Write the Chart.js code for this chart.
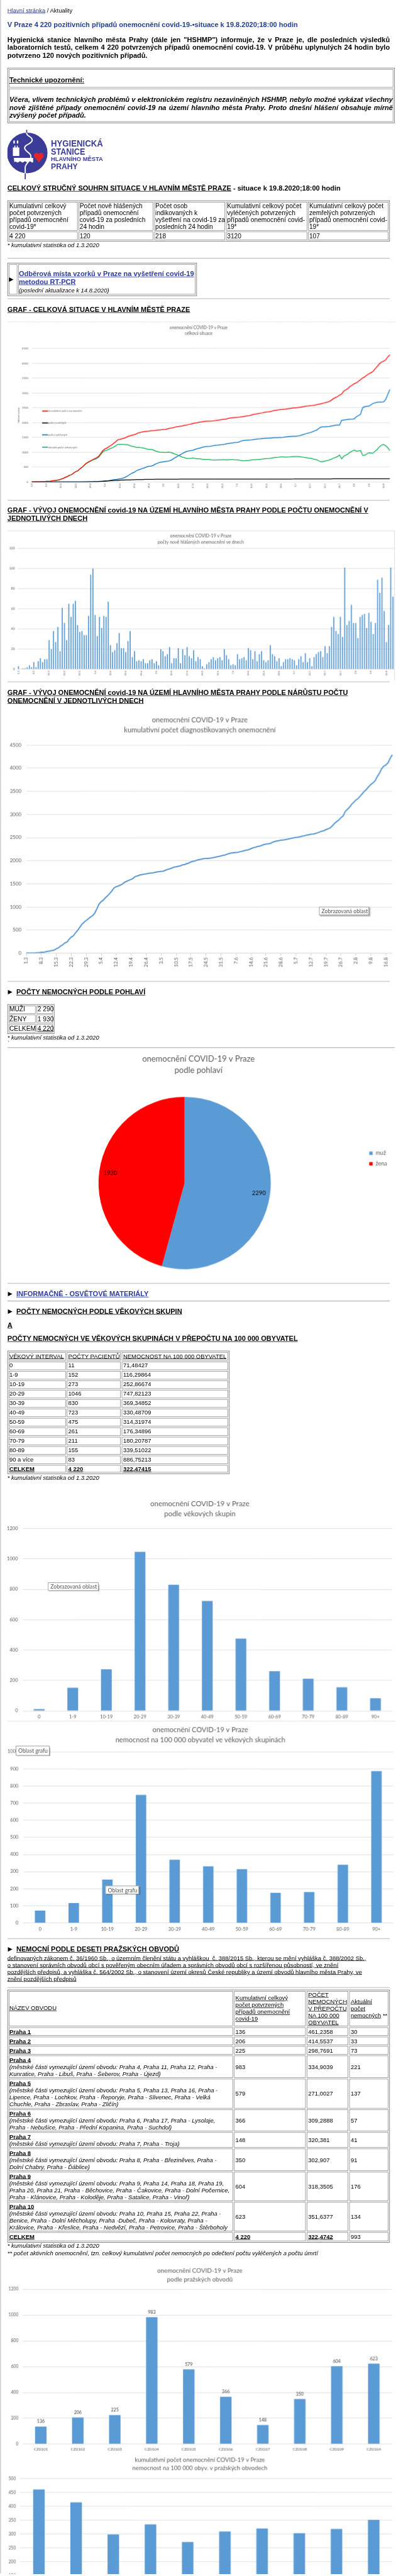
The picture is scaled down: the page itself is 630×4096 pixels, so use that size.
<!DOCTYPE html>
<html lang="cs">
<head>
<meta charset="utf-8">
<title>V Praze 4 220 pozitivních případů onemocnění covid-19</title>
<script src="https://cdn.jsdelivr.net/npm/chart.js@4.4.1/dist/chart.umd.min.js"></script>
<style>
  html, body { margin: 0; padding: 0; background: #fff; width: 630px; height: 4096px; overflow: hidden; }
  #page { position: absolute; left: 0; top: 0; width: 800px; height: 5200px; overflow: hidden;
          transform: scale(0.787); transform-origin: 0 0;
          font-family: "Liberation Sans", Arial, sans-serif; font-size: 14px; color: #000; }
  .a { position: absolute; white-space: nowrap; }
  .u { text-decoration: underline; }
  .lnk { color: #2d3a9e; text-decoration: underline; }
  .hr { position: absolute; left: 15px; width: 773px; height: 0; border-top: 1px solid #a3a3a3; border-bottom: 1px solid #e4e4e4; }
  .tip { position: absolute; background: #fff; border: 1px solid #8c8c8c; box-shadow: 2px 2px 2px rgba(0,0,0,.35);
         font-family: Lato, sans-serif; font-size: 11px; color: #575757; padding: 0 4px; white-space: nowrap; box-sizing: border-box; }
  .cv { position: absolute; }
</style>
</head>
<body>
<div id="page">
  <svg width="200" height="100" viewBox="0 0 200 100" style="position:absolute;left:15px;top:262px">
    <circle cx="40" cy="47" r="41" fill="#3b3c97"/>
    <path d="M39 0 V7" stroke="#3b3c97" stroke-width="2.2"/>
    <path d="M39 6 C37 13 52 14 50 22 C48 30 33 30 35 38 C37 46 50 47 47 57 C44 67 34 70 36 79 L36 89" stroke="#fff" stroke-width="2.4" fill="none"/>
    <path d="M36 88 V100" stroke="#3b3c97" stroke-width="2.2"/>
    <path d="M11 53 V36 h3 v-4 h2 v4 h3 v-4 h2 v4 h3 V53 Z" fill="#fff"/>
    <rect x="12" y="22" width="3" height="6" fill="#fff"/>
    <rect x="19" y="22" width="3" height="6" fill="#fff"/>
    <path d="M13 57 H52 V66 h-3 a4 4 0 0 0 -7 0 h-3 a4 4 0 0 0 -7 0 h-3 a4 4 0 0 0 -7 0 h-3 a3 3 0 0 0 -5 0 Z" fill="#fff"/>
    <path d="M63.5 66 L55 56 C51 50 57 43 63.5 49 C70 43 76 50 72 56 Z" fill="#e3242b"/>
    <g fill="#3b3c97" font-family="Liberation Sans, Arial, sans-serif" font-weight="bold">
      <text x="88" y="34" font-size="18" textLength="105" lengthAdjust="spacingAndGlyphs">HYGIENICKÁ</text>
      <text x="88" y="50" font-size="18" textLength="69" lengthAdjust="spacingAndGlyphs">STANICE</text>
      <text x="88" y="63.5" font-size="11.5" textLength="105" lengthAdjust="spacingAndGlyphs">HLAVNÍHO MĚSTA</text>
      <text x="88" y="80" font-size="17" textLength="54" lengthAdjust="spacingAndGlyphs">PRAHY</text>
    </g>
  </svg>
</div>
<script>
// ---------------------------------------------------------------- data
// days 1.3. – 19.8.2020
const monthDays = [[3, 31], [4, 30], [5, 31], [6, 30], [7, 31], [8, 19]];
const dayLabels = [];
monthDays.forEach(([m, n]) => { for (let d = 1; d <= n; d++) dayLabels.push(d + '.' + m); });

// newly reported cases per day (one row = one week from 1.3.)
const dailyCases = [
  3, 0, 1, 1, 2, 4, 2,
  7, 2, 8, 11, 7, 10, 10,
  29, 20, 38, 27, 42, 18, 61,
  46, 29, 65, 52, 65, 68, 44,
  37, 38, 34, 34, 53, 94, 100,
  54, 33, 52, 41, 53, 52, 67,
  24, 17, 19, 26, 36, 21, 21,
  17, 28, 38, 12, 18, 8, 9,
  8, 10, 6, 6, 9, 10, 6,
  8, 4, 20, 18, 13, 15, 22,
  6, 11, 11, 21, 6, 20, 14,
  22, 13, 11, 19, 8, 12, 10,
  3, 1, 5, 7, 10, 12, 9,
  11, 12, 9, 20, 14, 10, 4,
  5, 4, 15, 10, 11, 12, 9,
  21, 19, 10, 18, 8, 15, 18,
  9, 7, 9, 24, 15, 13, 8,
  11, 3, 7, 10, 10, 11, 10,
  9, 4, 10, 13, 7, 16, 7,
  11, 3, 12, 15, 17, 18, 12,
  23, 16, 23, 42, 52, 38, 35,
  52, 32, 101, 44, 48, 64, 46,
  46, 31, 52, 54, 55, 41, 56,
  47, 35, 46, 89, 76, 91, 58,
  27, 44, 101, 72
];

// cumulative recovered
const recovered = [
  0, 0, 0, 0, 0, 0, 0,
  0, 0, 0, 0, 0, 0, 0,
  0, 0, 0, 0, 0, 0, 0,
  1, 2, 3, 4, 5, 6, 7,
  8, 9, 10, 12, 14, 16, 20,
  30, 40, 50, 62, 75, 83, 90,
  105, 120, 140, 170, 210, 260, 300,
  330, 380, 410, 430, 460, 480, 510,
  530, 540, 560, 600, 630, 660, 670,
  680, 690, 700, 720, 750, 800, 840,
  880, 920, 960, 1000, 1030, 1050, 1060,
  1070, 1100, 1120, 1140, 1160, 1180, 1190,
  1195, 1200, 1215, 1230, 1240, 1245, 1255,
  1261, 1270, 1285, 1300, 1310, 1320, 1328,
  1335, 1345, 1380, 1400, 1405, 1410, 1415,
  1420, 1430, 1440, 1450, 1455, 1462, 1468,
  1472, 1476, 1480, 1487, 1492, 1496, 1498,
  1500, 1505, 1515, 1525, 1532, 1538, 1541,
  1544, 1550, 1565, 1585, 1605, 1630, 1650,
  1667, 1690, 1720, 1750, 1800, 1850, 1860,
  1861, 1865, 1870, 1885, 1900, 1915, 1917,
  1917, 2080, 2090, 2100, 2110, 2115, 2120,
  2128, 2200, 2240, 2280, 2500, 2540, 2550,
  2556, 2600, 2650, 2670, 2690, 2694, 2694,
  2700, 2780, 2950, 3120
];

// cumulative deaths
const deaths = [
  0, 0, 0, 0, 0, 0, 0,
  0, 0, 0, 0, 0, 0, 0,
  0, 0, 0, 0, 0, 0, 0,
  1, 1, 1, 2, 2, 3, 4,
  5, 7, 9, 12, 16, 20, 25,
  30, 34, 38, 43, 48, 52, 56,
  60, 63, 66, 68, 70, 72, 74,
  76, 78, 80, 81, 82, 84, 85,
  86, 87, 88, 89, 90, 90, 91,
  91, 92, 92, 92, 93, 93, 93,
  93, 94, 94, 94, 94, 94, 95,
  95, 95, 95, 95, 95, 95, 95,
  95, 95, 96, 96, 96, 96, 96,
  96, 96, 96, 96, 97, 97, 97,
  97, 97, 97, 97, 97, 97, 97,
  98, 98, 98, 98, 98, 98, 98,
  98, 98, 98, 99, 99, 99, 99,
  99, 99, 99, 99, 99, 99, 100,
  104, 104, 104, 104, 104, 104, 104,
  104, 104, 104, 104, 104, 104, 104,
  104, 104, 104, 104, 105, 105, 105,
  105, 105, 105, 105, 105, 105, 105,
  105, 105, 106, 106, 106, 106, 106,
  106, 106, 106, 106, 106, 107, 107,
  107, 107, 107, 107
];

const sexLabels = ['muž', 'žena'];
const sexCounts = [2290, 1930];

const ageGroups = ['0', '1-9', '10-19', '20-29', '30-39', '40-49', '50-59', '60-69', '70-79', '80-89', '90+'];
const ageCounts = [11, 152, 273, 1046, 830, 723, 475, 261, 211, 155, 83];
const agePer100k = [71.48, 116.30, 252.87, 747.82, 369.35, 330.49, 314.32, 176.35, 180.21, 339.51, 886.75];

const districts = ['CZ0101', 'CZ0102', 'CZ0103', 'CZ0104', 'CZ0105', 'CZ0106', 'CZ0107', 'CZ0108', 'CZ0109', 'CZ010A'];
const districtCounts = [136, 206, 225, 983, 579, 366, 148, 350, 604, 623];
const districtPer100k = [461.24, 414.55, 298.77, 334.90, 271.00, 309.29, 320.38, 302.91, 318.35, 351.64];

// running totals for the line charts
const cumulative = [];
dailyCases.reduce((sum, v) => { cumulative.push(sum + v); return sum + v; }, 0);
const active = cumulative.map((v, i) => v - recovered[i] - deaths[i]);

// ---------------------------------------------------------------- page
const page = document.getElementById('page');

function txt(x, cy, html, css, lh) {
  lh = lh || 16;
  const d = document.createElement('div');
  d.className = 'a';
  d.style.cssText = `left:${x}px;top:${cy - lh / 2}px;line-height:${lh}px;${css || ''}`;
  d.innerHTML = html;
  page.appendChild(d);
  return d;
}
// one justified line of a paragraph
function jline(x, cy, w, html, css) {
  return txt(x, cy, html, `width:${w}px;height:16px;overflow:hidden;white-space:normal;text-align:justify;text-align-last:justify;${css || ''}`);
}
function hr(y, w) {
  const d = document.createElement('div');
  d.className = 'hr';
  d.style.top = (y - 1) + 'px';
  if (w) d.style.width = w + 'px';
  page.appendChild(d);
}
function frame(x, y, w, h, color) {
  const d = document.createElement('div');
  d.style.cssText = `position:absolute;left:${x}px;top:${y}px;width:${w - 2}px;height:${h - 2}px;border:1px solid ${color}`;
  page.appendChild(d);
}
function rule(x, y, w, h, css) {
  const d = document.createElement('div');
  d.style.cssText = `position:absolute;left:${x}px;top:${y}px;width:${w}px;height:${h}px;${css}`;
  page.appendChild(d);
}
// html table look: outer border + separated cell borders
function grid(x0, y0, x1, y1, cols, rows) {
  frame(x0, y0, x1 - x0, y1 - y0, '#6a6a6a');
  const xs = [x0 + 2, ...cols, x1 - 2];
  const ys = [y0 + 2, ...rows, y1 - 2];
  for (let r = 0; r < ys.length - 1; r++)
    for (let c = 0; c < xs.length - 1; c++)
      frame(xs[c] + 1, ys[r] + 1, xs[c + 1] - xs[c] - 2, ys[r + 1] - ys[r] - 2, '#8a8a8a');
}
function section(cy, html, css) {
  txt(16, cy, '▶', 'font-family:"DejaVu Sans";font-size:12px');
  txt(33, cy, html, 'font-weight:bold;' + (css || ''));
}
function tip(x, y, w, h, text) {
  const d = document.createElement('div');
  d.className = 'tip';
  d.style.cssText = `left:${x}px;top:${y}px;width:${w}px;height:${h}px;line-height:${h - 2}px`;
  d.textContent = text;
  page.appendChild(d);
}

rule(0, 0, 2, 5200, 'background:#cfcfcf');

txt(15, 21, '<span class="lnk">Hlavní stránka</span> / Aktuality', 'font-size:12px');
txt(15, 50, 'V Praze 4 220 pozitivních případů onemocnění covid-19-•situace k 19.8.2020;18:00 hodin', 'font-weight:bold;color:#25408f');

jline(15, 80, 773, 'Hygienická stanice hlavního města Prahy (dále jen "HSHMP") informuje, že v Praze je, dle posledních výsledků', 'font-weight:bold');
jline(15, 96, 773, 'laboratorních testů, celkem 4 220 potvrzených případů onemocnění covid-19. V průběhu uplynulých 24 hodin bylo', 'font-weight:bold');
txt(15, 112, 'potvrzeno 120 nových pozitivních případů.', 'font-weight:bold');

grid(15, 137, 798, 249, [], [178]);
txt(19, 162, '<span class="u">Technické upozornění:</span>', 'font-weight:bold');
jline(19, 201, 775, 'Včera, vlivem technických problémů v elektronickém registru nezaviněných HSHMP, nebylo možné vykázat všechny', 'font-weight:bold;font-style:italic');
jline(19, 217, 775, 'nově zjištěné případy onemocnění covid-19 na území hlavního města Prahy. Proto dnešní hlášení obsahuje mírně', 'font-weight:bold;font-style:italic');
txt(19, 233, 'zvýšený počet případů.', 'font-weight:bold;font-style:italic');

txt(15, 380, '<span class="u">CELKOVÝ STRUČNÝ SOUHRN SITUACE V HLAVNÍM MĚSTĚ PRAZE</span> - situace k 19.8.2020;18:00 hodin', 'font-weight:bold');

// summary table
grid(15, 405, 788, 488, [158, 311, 456, 622], [467]);
const sumHead = [
  ['Kumulativní celkový', 'počet potvrzených', 'případů onemocnění', 'covid-19*'],
  ['Počet nově hlášených', 'případů onemocnění', 'covid-19 za posledních', '24 hodin'],
  ['Počet osob', 'indikovaných k', 'vyšetření na covid-19 za', 'posledních 24 hodin'],
  ['Kumulativní celkový počet', 'vyléčených potvrzených', 'případů onemocnění covid-', '19*'],
  ['Kumulativní celkový počet', 'zemřelých potvrzených', 'případů onemocnění covid-', '19*']
];
const sumX = [19, 161, 314, 459, 625];
sumHead.forEach((lines, c) => lines.forEach((t, r) => txt(sumX[c], 416 + r * 14, t, 'font-size:13px', 14)));
['4 220', '120', '218', '3120', '107'].forEach((t, c) => txt(sumX[c], 477, t, 'font-size:13px'));
txt(15, 495, '* kumulativní statistika od 1.3.2020', 'font-size:12px;font-style:italic');

hr(522);
grid(15, 531, 398, 598, [36], []);
txt(18, 564, '▶', 'font-family:"DejaVu Sans";font-size:12px');
txt(38, 553, '<span class="lnk">Odběrová místa vzorků v Praze na vyšetření covid-19</span>', 'font-weight:bold');
txt(38, 569, '<span class="lnk">metodou RT-PCR</span>', 'font-weight:bold');
txt(38, 587, '(poslední aktualizace k 14.8.2020)', 'font-size:12px;font-style:italic');
hr(604);

txt(15, 625, '<span class="u">GRAF - CELKOVÁ SITUACE V HLAVNÍM MĚSTĚ PRAZE</span>', 'font-weight:bold');
rule(15, 650, 785, 0, 'border-top:1px dotted #c8c8c8');

hr(1011);
txt(15, 1031, '<span class="u">GRAF - VÝVOJ ONEMOCNĚNÍ covid-19 NA ÚZEMÍ HLAVNÍHO MĚSTA PRAHY PODLE POČTU ONEMOCNĚNÍ V</span>', 'font-weight:bold');
txt(15, 1047, '<span class="u">JEDNOTLIVÝCH DNECH</span>', 'font-weight:bold');
rule(15, 1072, 783, 0, 'border-top:1px solid #d9d9d9');
rule(797, 1072, 0, 302, 'border-left:1px solid #d9d9d9');

hr(1378);
txt(15, 1399, '<span class="u">GRAF - VÝVOJ ONEMOCNĚNÍ covid-19 NA ÚZEMÍ HLAVNÍHO MĚSTA PRAHY PODLE NÁRŮSTU POČTU</span>', 'font-weight:bold');
txt(15, 1415, '<span class="u">ONEMOCNĚNÍ V JEDNOTLIVÝCH DNECH</span>', 'font-weight:bold');

hr(1983);
section(2004, '<span class="u">POČTY NEMOCNÝCH PODLE POHLAVÍ</span>');
grid(15, 2029, 110, 2089, [73], [2049, 2068]);
[['MUŽI', '2 290'], ['ŽENY', '1 930'], ['CELKEM', '<span class="u">4 220</span>']].forEach((r, i) => {
  txt(19, 2039 + i * 19.5, r[0], 'font-size:13px');
  txt(76, 2039 + i * 19.5, r[1], 'font-size:13px');
});
txt(15, 2096, '* kumulativní statistika od 1.3.2020', 'font-size:12px;font-style:italic');
txt(16, 2106, '\'', 'font-size:10px;font-style:italic');
hr(2117, 783);

hr(2593);
section(2614, '<span class="lnk">INFORMAČNĚ - OSVĚTOVÉ MATERIÁLY</span>');
hr(2629);
section(2649, '<span class="u">POČTY NEMOCNÝCH PODLE VĚKOVÝCH SKUPIN</span>');
txt(15, 2677, '<span class="u">A</span>', 'font-weight:bold');
txt(15, 2704, '<span class="u">POČTY NEMOCNÝCH VE VĚKOVÝCH SKUPINÁCH V PŘEPOČTU NA 100 000 OBYVATEL</span>', 'font-weight:bold');

// age table
const ageRowsY = [];
for (let k = 0; k < 12; k++) ageRowsY.push(2750 + k * 19);
grid(15, 2729, 464, 2978, [134, 245], ageRowsY);
const ageTable = [
  ['<span class="u">VĚKOVÝ INTERVAL</span>', '<span class="u">POČTY PACIENTŮ</span>', '<span class="u">NEMOCNOST NA 100 000 OBYVATEL</span>'],
  ['0', '11', '71,48427'], ['1-9', '152', '116,29864'], ['10-19', '273', '252,86674'],
  ['20-29', '1046', '747,82123'], ['30-39', '830', '369,34852'], ['40-49', '723', '330,48709'],
  ['50-59', '475', '314,31974'], ['60-69', '261', '176,34896'], ['70-79', '211', '180,20787'],
  ['80-89', '155', '339,51022'], ['90 a více', '83', '886,75213'],
  ['<b class="u">CELKEM</b>', '<b class="u">4 220</b>', '<b class="u">322,47415</b>']
];
ageTable.forEach((r, i) => r.forEach((t, c) => txt([19, 138, 249][c], 2740 + i * 19, t, 'font-size:12px')));
txt(15, 2986, '* kumulativní statistika od 1.3.2020', 'font-size:12px;font-style:italic');
rule(15, 3477, 785, 0, 'border-top:1px solid #d9d9d9');

hr(3917);
section(3938, '<span class="u">NEMOCNÍ PODLE DESETI PRAŽSKÝCH OBVODŮ</span>');
[
  'definovaných zákonem č. 36/1960 Sb., o územním členění státu a vyhláškou &nbsp;č. 388/2015 Sb., kterou se mění vyhláška č. 388/2002 Sb.,',
  'o stanovení správních obvodů obcí s pověřeným obecním úřadem a správních obvodů obcí s rozšířenou působností, ve znění',
  'pozdějších předpisů, a vyhláška č. 564/2002 Sb., o stanovení území okresů České republiky a území obvodů hlavního města Prahy, ve',
  'znění pozdějších předpisů'
].forEach((t, i) => txt(15, 3956 + i * 14, '<span class="u">' + t + '</span>', 'font-size:12px', 14));
hr(4016);

// district table
grid(15, 4020, 788, 4531, [472, 619, 705], [4095, 4114, 4133, 4152, 4199, 4261, 4307, 4340, 4387, 4448, 4509]);
txt(19, 4057, '<span class="u">NÁZEV OBVODU</span>', 'font-size:12px', 14);
['Kumulativní celkový', 'počet potvrzených', 'případů onemocnění', 'covid-19'].forEach((t, i) => txt(476, 4037 + i * 14, '<span class="u">' + t + '</span>', 'font-size:12px', 14));
['POČET', 'NEMOCNÝCH', 'V PŘEPOČTU', 'NA 100 000', 'OBYVATEL'].forEach((t, i) => txt(623, 4030 + i * 14, '<span class="u">' + t + '</span>', 'font-size:12px', 14));
['<span class="u">Aktuální</span>', '<span class="u">počet</span>', '<span class="u">nemocných</span> **'].forEach((t, i) => txt(709, 4044 + i * 14, t, 'font-size:12px', 14));
const districtRows = [
  ['Praha 1', [], 4105, '136', '461,2358', '30'],
  ['Praha 2', [], 4124, '206', '414,5537', '33'],
  ['Praha 3', [], 4143, '225', '298,7691', '73'],
  ['Praha 4', ['(městské části vymezující území obvodu: Praha 4, Praha 11, Praha 12, Praha -', 'Kunratice, Praha - Libuš, Praha - Šeberov, Praha - Újezd)'], 4176, '983', '334,9039', '221'],
  ['Praha 5', ['(městské části vymezující území obvodu: Praha 5, Praha 13, Praha 16, Praha -', 'Lipence, Praha - Lochkov, Praha - Řeporyje, Praha - Slivenec, Praha - Velká', 'Chuchle, Praha - Zbraslav, Praha - Zličín)'], 4230, '579', '271,0027', '137'],
  ['Praha 6', ['(městské části vymezující území obvodu: Praha 6, Praha 17, Praha - Lysolaje,', 'Praha - Nebušice, Praha - Přední Kopanina, Praha - Suchdol)'], 4284, '366', '309,2888', '57'],
  ['Praha 7', ['(městské části vymezující území obvodu: Praha 7, Praha - Troja)'], 4324, '148', '320,381', '41'],
  ['Praha 8', ['(městské části vymezující území obvodu: Praha 8, Praha - Březiněves, Praha -', 'Dolní Chabry, Praha - Ďáblice)'], 4364, '350', '302,907', '91'],
  ['Praha 9', ['(městské části vymezující území obvodu: Praha 9, Praha 14, Praha 18, Praha 19,', 'Praha 20, Praha 21, Praha - Běchovice, Praha - Čakovice, Praha - Dolní Počernice,', 'Praha - Klánovice, Praha - Koloděje, Praha - Satalice, Praha - Vinoř)'], 4418, '604', '318,3505', '176'],
  ['Praha 10', ['(městské části vymezující území obvodu: Praha 10, Praha 15, Praha 22, Praha -', 'Benice, Praha - Dolní Měcholupy, Praha -Dubeč, Praha - Kolovraty, Praha -', 'Královice, Praha - Křeslice, Praha - Nedvězí, Praha - Petrovice, Praha - Štěrboholy'], 4479, '623', '351,6377', '134']
];
const rowTops = [4096, 4115, 4134, 4153, 4200, 4262, 4308, 4341, 4388, 4449];
districtRows.forEach((r, i) => {
  const top = rowTops[i];
  txt(19, top + 9, '<b class="u">' + r[0] + '</b>', 'font-size:12px', 14);
  r[1].forEach((t, k) => txt(19, top + 23 + k * 14, t, 'font-size:12px;font-style:italic', 14));
  txt(476, r[2], r[3], 'font-size:12px', 14);
  txt(623, r[2], r[4], 'font-size:12px', 14);
  txt(709, r[2], r[5], 'font-size:12px', 14);
});
txt(19, 4519, '<b class="u">CELKEM</b>', 'font-size:12px', 14);
txt(476, 4519, '<b class="u">4 220</b>', 'font-size:12px', 14);
txt(623, 4519, '<b class="u">322,4742</b>', 'font-size:12px', 14);
txt(709, 4519, '993', 'font-size:12px', 14);
txt(15, 4537, '* kumulativní statistika od 1.3.2020', 'font-size:12px;font-style:italic', 14);
txt(15, 4552, '** počet aktivních onemocnění, tzn. celkový kumulativní počet nemocných po odečtení počtu vyléčených a počtu úmrtí', 'font-size:12px;font-style:italic', 14);

// ---------------------------------------------------------------- charts
const DPR = 0.787;            // page is drawn at reference size and scaled
const BLUE = '#5b9bd5';
const GRID = '#d9d9d9';
const INK = '#595959';
Chart.defaults.font.family = 'Lato, "Open Sans", sans-serif';
Chart.defaults.color = INK;
Chart.defaults.animation = false;
Chart.defaults.plugins.legend.display = false;
Chart.defaults.plugins.tooltip.enabled = false;

function holder(x, y, w, h) {
  const c = document.createElement('canvas');
  c.className = 'cv';
  c.width = w;
  c.height = h;
  c.style.left = x + 'px';
  c.style.top = y + 'px';
  page.appendChild(c);
  return c;
}
const fixW = w => s => { s.width = w; };
const fixH = h => s => { s.height = h; };
const weekTick = (v, i) => (i % 7 === 0 ? dayLabels[i] : null);

function chartTitle(text, size, top, lh, bottom) {
  return { display: true, text, color: INK, font: { size, weight: 'normal', lineHeight: lh / size }, padding: { top, bottom } };
}
function yAxis(max, step, width, pad, size) {
  return {
    min: 0, max, afterFit: fixW(width),
    grid: { color: GRID, drawTicks: false }, border: { display: false },
    ticks: { stepSize: step, padding: pad, font: { size }, callback: v => String(v) }
  };
}
function xCat(height, size, pad) {
  return {
    afterFit: fixH(height), grid: { display: false, drawTicks: false }, border: { display: false },
    ticks: { autoSkip: false, maxRotation: 0, padding: pad, font: { size } }
  };
}

// legend drawn inside the plot of the overview chart
const innerLegend = {
  id: 'innerLegend',
  afterDraw(chart, args, o) {
    const { ctx, chartArea } = chart;
    ctx.save();
    ctx.font = `${o.size}px Lato`;
    ctx.textBaseline = 'middle';
    chart.data.datasets.forEach((ds, i) => {
      const x = chartArea.left + o.x;
      const y = chartArea.top + o.rows[i];
      ctx.strokeStyle = ds.borderColor;
      ctx.lineWidth = 2;
      ctx.beginPath();
      ctx.moveTo(x, y);
      ctx.lineTo(x + o.len, y);
      ctx.stroke();
      ctx.fillStyle = INK;
      ctx.fillText(ds.label, x + o.len + 1, y);
    });
    ctx.translate(chartArea.left - o.axisX, (chartArea.top + chartArea.bottom) / 2);
    ctx.rotate(-Math.PI / 2);
    ctx.textAlign = 'center';
    ctx.fillText(o.axisTitle, 0, 0);
    ctx.restore();
  }
};

const barValues = {
  id: 'barValues',
  afterDatasetsDraw(chart, args, o) {
    const { ctx } = chart;
    const ds = chart.data.datasets[0];
    ctx.save();
    ctx.font = `${o.size}px Lato`;
    ctx.fillStyle = o.color;
    ctx.textAlign = 'center';
    ctx.textBaseline = 'middle';
    chart.getDatasetMeta(0).data.forEach((bar, i) => ctx.fillText(ds.data[i], bar.x, bar.y - o.gap));
    ctx.restore();
  }
};

const sliceLabels = {
  id: 'sliceLabels',
  afterDatasetsDraw(chart, args, o) {
    const { ctx } = chart;
    const ds = chart.data.datasets[0];
    ctx.save();
    ctx.font = `${o.size}px Lato`;
    ctx.fillStyle = '#000';
    ctx.textAlign = 'center';
    ctx.textBaseline = 'middle';
    chart.getDatasetMeta(0).data.forEach((arc, i) => {
      const p = arc.getProps(['x', 'y', 'startAngle', 'endAngle', 'outerRadius'], true);
      const a = (p.startAngle + p.endAngle) / 2;
      const r = p.outerRadius * o.at;
      ctx.fillText(ds.data[i], p.x + Math.cos(a) * r, p.y + Math.sin(a) * r);
    });
    ctx.restore();
  }
};

// 1) overall situation
new Chart(holder(15, 651, 785, 354), {
  type: 'line',
  data: {
    labels: dayLabels,
    datasets: [
      { label: 'kumulativní počet onemocnění', data: cumulative, borderColor: '#ff0000' },
      { label: 'počet zemřelých', data: deaths, borderColor: '#000000' },
      { label: 'počet vyléčených', data: recovered, borderColor: '#0070c0' },
      { label: 'aktuální počet nakažených', data: active, borderColor: '#00b050' }
    ].map(d => ({ ...d, borderWidth: 1.6, pointRadius: 0 }))
  },
  plugins: [innerLegend],
  options: {
    responsive: false, devicePixelRatio: DPR,
    layout: { padding: { right: 13 } },
    plugins: {
      title: chartTitle(['onemocnění COVID-19 v Praze', 'celková situace'], 8.5, 5, 12, 24),
      innerLegend: { x: 21, len: 12, rows: [126, 150, 174, 199], size: 5, axisTitle: 'hlášené osoby', axisX: 26 }
    },
    scales: {
      x: {
        afterFit: fixH(32), grid: { display: false, drawTicks: false }, border: { display: false },
        ticks: { autoSkip: false, minRotation: 90, maxRotation: 90, padding: 3, font: { size: 5 }, callback: weekTick }
      },
      y: yAxis(4500, 500, 49, 7, 5.5)
    }
  }
});

// 2) new cases per day
new Chart(holder(15, 1073, 782, 300), {
  type: 'bar',
  data: { labels: dayLabels, datasets: [{ data: dailyCases, backgroundColor: BLUE, categoryPercentage: 1, barPercentage: 0.5 }] },
  options: {
    responsive: false, devicePixelRatio: DPR,
    layout: { padding: { right: 1 } },
    plugins: { title: chartTitle(['onemocnění COVID-19 v Praze', 'počty nově hlášených onemocnění ve dnech'], 9, 4, 12, 7) },
    scales: {
      x: {
        afterFit: fixH(21), grid: { display: false, drawTicks: false }, border: { display: false },
        ticks: { autoSkip: false, minRotation: 90, maxRotation: 90, padding: 3, font: { size: 5 }, callback: weekTick }
      },
      y: yAxis(120, 20, 20, 5, 6.5)
    }
  }
});

// 3) cumulative cases
new Chart(holder(15, 1430, 785, 545), {
  type: 'line',
  data: { labels: dayLabels, datasets: [{ data: cumulative, borderColor: BLUE, borderWidth: 2.6, pointRadius: 0 }] },
  options: {
    responsive: false, devicePixelRatio: DPR,
    layout: { padding: { right: 8 } },
    plugins: { title: chartTitle(['onemocnění COVID-19 v Praze', 'kumulativní počet diagnostikovaných onemocnění'], 14, 15, 20, 20) },
    scales: {
      x: {
        afterFit: fixH(50),
        grid: { display: true, drawOnChartArea: false, drawTicks: true, tickLength: 5, color: '#bfbfbf' },
        border: { display: true, color: GRID },
        ticks: { autoSkip: false, minRotation: 90, maxRotation: 90, padding: 3, font: { size: 10 }, callback: weekTick }
      },
      y: yAxis(4500, 500, 38, 10, 10)
    }
  }
});
tip(645, 1832, 101, 17, 'Zobrazovaná oblast');

// 4) by sex
new Chart(holder(5, 2117, 787, 473), {
  type: 'pie',
  data: { labels: sexLabels, datasets: [{ data: sexCounts, backgroundColor: [BLUE, '#ff0000'], borderWidth: 0 }] },
  plugins: [sliceLabels],
  options: {
    responsive: false, devicePixelRatio: DPR,
    layout: { padding: { left: 5, right: 0, top: 0, bottom: 26 } },
    plugins: {
      title: chartTitle(['onemocnění COVID-19 v Praze', 'podle pohlaví'], 16.5, 10, 24, 41),
      legend: { display: true, position: 'right', labels: { boxWidth: 7, boxHeight: 7, padding: 10, color: INK, font: { size: 11.5 } } },
      sliceLabels: { size: 12, at: 0.87 }
    }
  }
});

// 5) by age group
new Chart(holder(15, 3010, 785, 467), {
  type: 'bar',
  data: { labels: ageGroups, datasets: [{ data: ageCounts, backgroundColor: BLUE, categoryPercentage: 1, barPercentage: 0.32 }] },
  options: {
    responsive: false, devicePixelRatio: DPR,
    layout: { padding: { right: 8 } },
    plugins: { title: chartTitle(['onemocnění COVID-19 v Praze', 'podle věkových skupin'], 14.5, 19, 20, 19) },
    scales: { x: xCat(21, 9.5, 7), y: yAxis(1200, 200, 30, 9, 9.5) }
  }
});
tip(97, 3197, 102, 17, 'Zobrazovaná oblast');

// 6) per 100 000 by age group
new Chart(holder(15, 3478, 785, 437), {
  type: 'bar',
  data: { labels: ageGroups, datasets: [{ data: agePer100k, backgroundColor: BLUE, categoryPercentage: 1, barPercentage: 0.31 }] },
  options: {
    responsive: false, devicePixelRatio: DPR,
    layout: { padding: { right: 6 } },
    plugins: { title: chartTitle(['onemocnění COVID-19 v Praze', 'nemocnost na 100 000 obyvatel ve věkových skupinách'], 14, 7, 20, 14) },
    scales: { x: xCat(31, 9.5, 7), y: yAxis(1000, 100, 32, 10, 9.5) }
  }
});
tip(32, 3527, 68, 20, 'Oblast grafu');
tip(213, 3810, 68, 17, 'Oblast grafu');

// 7) by district
new Chart(holder(15, 4579, 785, 381), {
  type: 'bar',
  data: { labels: districts, datasets: [{ data: districtCounts, backgroundColor: BLUE, categoryPercentage: 1, barPercentage: 0.31 }] },
  plugins: [barValues],
  options: {
    responsive: false, devicePixelRatio: DPR,
    layout: { padding: { right: 8 } },
    plugins: {
      title: chartTitle(['onemocnění COVID-19 v Praze', 'podle pražských obvodů'], 12.5, 0.5, 17, 11.5),
      barValues: { size: 9, color: '#404040', gap: 10 }
    },
    scales: { x: xCat(23, 8, 6), y: yAxis(1200, 200, 30, 8, 8.5) }
  }
});

// 8) per 100 000 by district
new Chart(holder(15, 4960, 785, 360), {
  type: 'bar',
  data: { labels: districts, datasets: [{ data: districtPer100k, backgroundColor: BLUE, categoryPercentage: 1, barPercentage: 0.31 }] },
  options: {
    responsive: false, devicePixelRatio: DPR,
    layout: { padding: { right: 8 } },
    plugins: { title: chartTitle(['kumulativní počet onemocnění COVID-19 v Praze', 'nemocnost na 100 000 obyv. v pražských obvodech'], 12, 1.5, 17, 12.5) },
    scales: { x: xCat(33, 8, 6), y: yAxis(500, 50, 26, 9, 8.5) }
  }
});
</script>
</body>
</html>
